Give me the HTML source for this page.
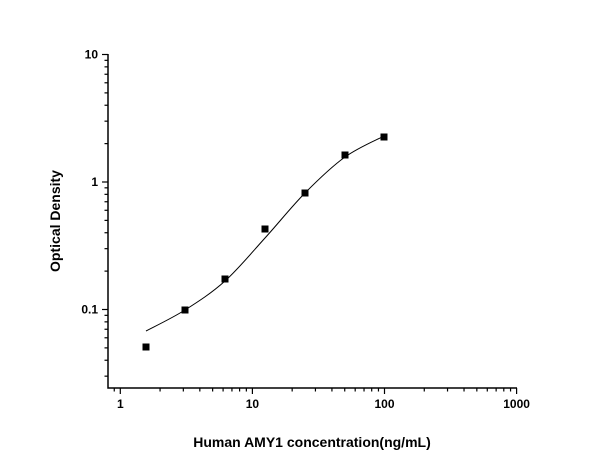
<!DOCTYPE html><html><head><style>body{margin:0;background:#fff}svg{display:block}text{font-family:"Liberation Sans",Arial,sans-serif;font-weight:bold;fill:#000}</style></head><body>
<svg id="s" width="600" height="464" xmlns="http://www.w3.org/2000/svg"></svg>
<script>
const s=document.getElementById('s');let h='';
const X=v=>120.3+132.1*Math.log10(v), Y=v=>182-127.5*Math.log10(v);
h+='<path d="M108 54 V388 H517" fill="none" stroke="#000" stroke-width="1.5"/>';
for(let e=-2;e<=1;e++)for(let m=1;m<10;m++){const v=m*Math.pow(10,e);const y=Y(v);if(y<53||y>388)continue;const L=m==1?6:3.5;h+=`<line x1="${108-L}" x2="108" y1="${y}" y2="${y}" stroke="#000" stroke-width="1.2"/>`;}
for(let e=-1;e<=3;e++)for(let m=1;m<10;m++){const v=m*Math.pow(10,e);const x=X(v);if(x<108||x>518)continue;const L=m==1?6:3.5;h+=`<line y1="388" y2="${388+L}" x1="${x}" x2="${x}" stroke="#000" stroke-width="1.2"/>`;if(e==3)break;}
[[10,'10'],[1,'1'],[0.1,'0.1']].forEach(([v,t])=>h+=`<text x="98" y="${Y(v)+4}" font-size="12" text-anchor="end">${t}</text>`);
[1,10,100,1000].forEach(v=>h+=`<text x="${X(v)}" y="408" font-size="12" text-anchor="middle">${v}</text>`);
h+='<text x="312" y="447" font-size="14" text-anchor="middle">Human AMY1 concentration(ng/mL)</text>';
h+='<text transform="translate(60,221) rotate(-90)" font-size="14" text-anchor="middle">Optical Density</text>';
const p=[[146,331],[185,310],[225,281],[265,238],[305,193],[345,157],[384,136]];
let d=`M${p[0][0]} ${p[0][1]}`;
for(let i=0;i<p.length-1;i++){const a=p[Math.max(0,i-1)],b=p[i],c=p[i+1],e=p[Math.min(p.length-1,i+2)];
d+=` C${b[0]+(c[0]-a[0])/6} ${b[1]+(c[1]-a[1])/6} ${c[0]-(e[0]-b[0])/6} ${c[1]-(e[1]-b[1])/6} ${c[0]} ${c[1]}`;}
h+=`<path d="${d}" fill="none" stroke="#000" stroke-width="1"/>`;
[[146,347],[185,310],[225,279],[265,229],[305,193],[345,155],[384,137]].forEach(([x,y])=>h+=`<rect x="${x-3.5}" y="${y-3.5}" width="7" height="7" fill="#000"/>`);
s.innerHTML=h;
</script></body></html>
